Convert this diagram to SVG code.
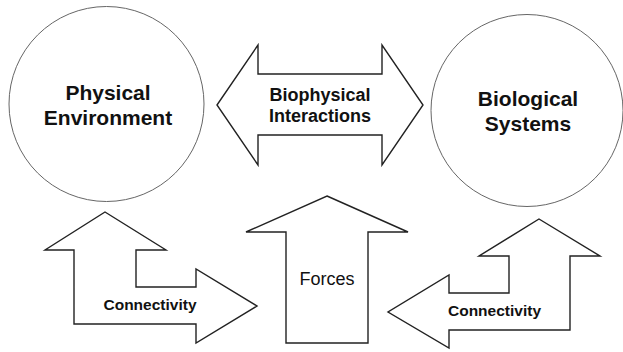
<svg xmlns="http://www.w3.org/2000/svg" width="623" height="352" viewBox="0 0 623 352">
<style>
.circ{fill:#fff;stroke:#666;stroke-width:1}
.arr{fill:#fff;stroke:#222;stroke-width:1.4;stroke-linejoin:miter}
.big{font-family:"Liberation Sans",Arial,sans-serif;font-weight:bold;font-size:21px;fill:#111;text-anchor:middle}
.mid{font-family:"Liberation Sans",Arial,sans-serif;font-weight:bold;font-size:18px;fill:#111;text-anchor:middle}
.sm{font-family:"Liberation Sans",Arial,sans-serif;font-weight:bold;font-size:15.5px;fill:#111;text-anchor:middle}
.reg{font-family:"Liberation Sans",Arial,sans-serif;font-size:18px;fill:#111;text-anchor:middle}
</style>
<rect width="623" height="352" fill="#fff"/>
<g id="physical-environment">
<circle class="circ" cx="106.5" cy="104" r="97.5"/>
<text class="big" x="108" y="100">Physical</text>
<text class="big" x="108" y="125">Environment</text>
</g>
<g id="biological-systems">
<circle class="circ" cx="527" cy="110.5" r="96"/>
<text class="big" x="528" y="106">Biological</text>
<text class="big" x="528" y="131">Systems</text>
</g>
<g id="connectors">
<g id="biophysical-interactions">
<polygon class="arr" points="217,105 258,45 258,74 382,74 382,45 423,105 382,165 382,135 258,135 258,165"/>
<text class="mid" x="320" y="101">Biophysical</text>
<text class="mid" x="320" y="122">Interactions</text>
</g>
<g id="connectivity-left">
<polygon class="arr" points="105,212 166,250 136,250 136,287 196,287 196,269 257,306 196,343 196,324 74,324 74,250 45,250"/>
<text class="sm" x="150" y="310">Connectivity</text>
</g>
<g id="forces">
<polygon class="arr" points="327,196 408,232 368,232 368,343 286,343 286,232 246,232"/>
<text class="reg" x="327" y="285">Forces</text>
</g>
<g id="connectivity-right">
<polygon class="arr" points="539,219 600,256 570,256 570,330 449,330 449,348 388,312 449,275 449,293 509,293 509,256 479,256"/>
<text class="sm" x="494.5" y="316">Connectivity</text>
</g>
</g>
</svg>
